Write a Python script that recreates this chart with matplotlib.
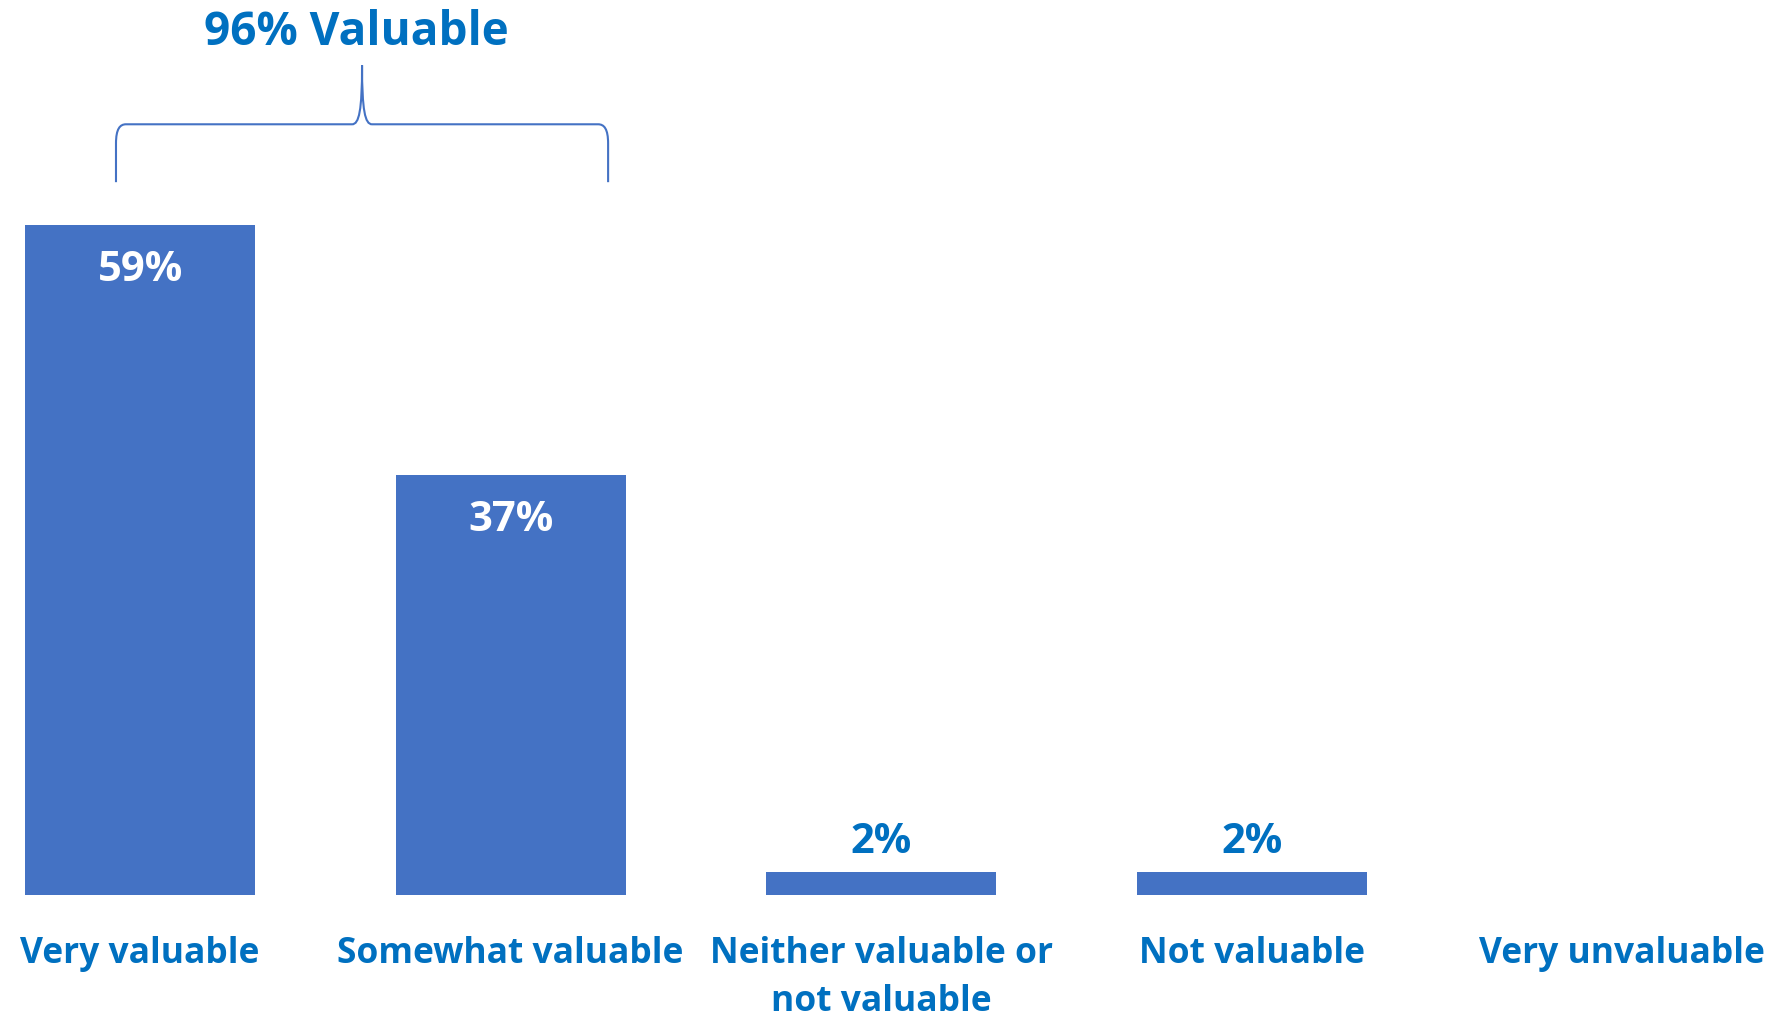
import matplotlib.pyplot as plt
from matplotlib.path import Path
from matplotlib.patches import PathPatch

# datos de la grafica
categorias = ["Very valuable", "Somewhat valuable", "Neither valuable or\nnot valuable",
              "Not valuable", "Very unvaluable"]
valores = [59, 37, 2, 2, 0]
etiquetas = ["59%", "37%", "2%", "2%", ""]
titulo_grupo = "96% Valuable"

azul_barra = "#4472C4"
azul_texto = "#0070C0"
fuente = ["Open Sans", "DejaVu Sans"]

fig = plt.figure(figsize=(17.68, 10.17), dpi=100)
ax = fig.add_axes([0, 0.12, 1, 0.88])

x = list(range(len(categorias)))
barras = ax.bar(x, valores, width=0.62, color=azul_barra)

ax.set_xlim(-0.378, 4.393)
ax.set_ylim(0, 78.85)
ax.axis("off")

# etiquetas de valor: dentro de las barras grandes, arriba de las chicas
for b, v, txt in zip(barras, valores, etiquetas):
    if not txt:
        continue
    cx = b.get_x() + b.get_width() / 2
    if v > 10:
        ax.text(cx, v - 4.0, txt, ha="center", va="center", color="white",
                fontsize=30, fontweight="bold", family=fuente)
    else:
        ax.text(cx, v + 2.6, txt, ha="center", va="center", color=azul_texto,
                fontsize=30, fontweight="bold", family=fuente)

# nombres de categorias debajo del eje
for xi, cat in zip(x, categorias):
    ax.text(xi, -3.6, cat, ha="center", va="top", color=azul_texto,
            fontsize=25.5, fontweight="bold", family=fuente, linespacing=1.45)

# llave que agrupa las dos primeras barras
x_izq, x_mid, x_der = -0.065, 0.599, 1.263
y_base, y_brazo, y_punta = 62.8, 67.9, 73.1
dx = 0.027
verts = [
    (x_izq, y_base), (x_izq, y_brazo - 1.7),
    (x_izq, y_brazo - 0.4), (x_izq + dx * 0.4, y_brazo), (x_izq + dx, y_brazo),
    (x_mid - dx, y_brazo),
    (x_mid - dx * 0.3, y_brazo), (x_mid, y_brazo + 1.2), (x_mid, y_punta),
    (x_mid, y_brazo + 1.2), (x_mid + dx * 0.3, y_brazo), (x_mid + dx, y_brazo),
    (x_der - dx, y_brazo),
    (x_der - dx * 0.4, y_brazo), (x_der, y_brazo - 0.4), (x_der, y_brazo - 1.7),
    (x_der, y_base),
]
codes = [Path.MOVETO, Path.LINETO,
         Path.CURVE4, Path.CURVE4, Path.CURVE4,
         Path.LINETO,
         Path.CURVE4, Path.CURVE4, Path.CURVE4,
         Path.CURVE4, Path.CURVE4, Path.CURVE4,
         Path.LINETO,
         Path.CURVE4, Path.CURVE4, Path.CURVE4,
         Path.LINETO]
ax.add_patch(PathPatch(Path(verts, codes), fill=False, edgecolor=azul_barra,
                       linewidth=1.5, clip_on=False))

ax.text(0.583, 76.0, titulo_grupo, ha="center", va="center", color=azul_texto,
        fontsize=33, fontweight="bold", family=fuente)

fig.savefig("out.png", dpi=100)
